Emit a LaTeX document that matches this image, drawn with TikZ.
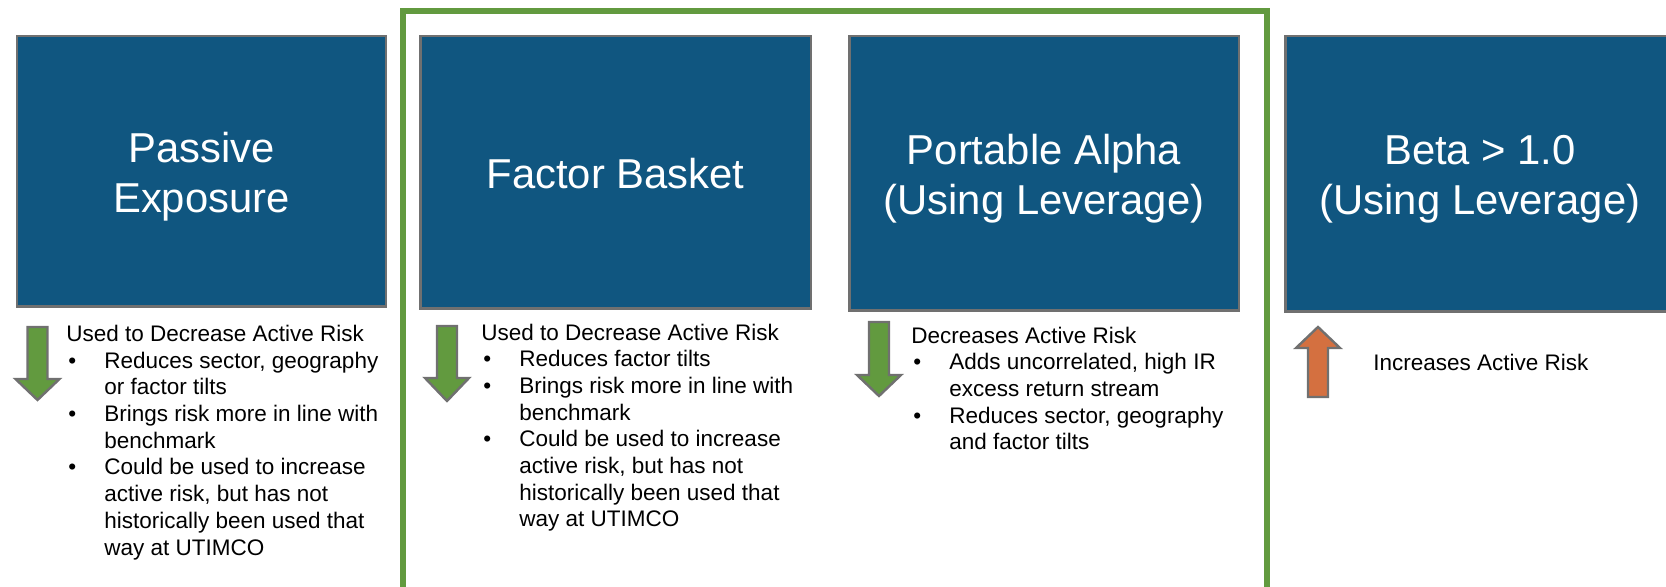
\documentclass[tikz,border=0pt]{standalone}
\usepackage{fontspec}
\setmainfont{Liberation Sans}
\definecolor{boxblue}{RGB}{16,86,128}
\definecolor{boxgray}{RGB}{112,112,112}
\definecolor{framegreen}{RGB}{98,154,63}
\definecolor{riskorange}{RGB}{212,112,64}
\tikzset{
  catbox/.style={draw=boxgray, line width=1.25pt, fill=boxblue, text=white,
    font=\fontsize{20.9}{25}\selectfont, align=center, inner sep=0pt},
  notes/.style={anchor=base west, align=left, inner sep=0pt,
    font=\fontsize{11.25}{13.35}\selectfont},
  frame/.style={draw=framegreen, line width=2.8pt},
  blk/.style={draw=boxgray, line width=1.2pt, line join=miter},
  }
\newcommand{\tstrut}{\rule[-0.17em]{0pt}{1.12em}}
\newcommand{\bul}{\makebox[19pt][l]{\hspace{1pt}\textbullet}}
\newcommand{\ind}{\hspace*{19pt}}
% fill, centre x, tail y, head base y, tip y
\newcommand{\blockarrow}[5]{%
  \draw[blk,fill=#1] (#2-10,#3) -- (#2+10,#3) -- (#2+10,#4) -- (#2+22,#4)
    -- (#2,#5) -- (#2-22,#4) -- (#2-10,#4) -- cycle;}

\begin{document}
\begin{tikzpicture}[x=0.5pt,y=-0.5pt]
  \useasboundingbox (0,0) rectangle (1666,587);

  % green frame round the middle pair, open at the bottom
  \draw[frame] (403,600) -- (403,11) -- (1267,11) -- (1267,600);

  % category boxes
  \node[catbox, minimum width=184.5pt, minimum height=135.25pt] (pas) at (201.5,171.5)
    {\tstrut Passive\\\tstrut Exposure};
  \node[catbox, minimum width=195.25pt, minimum height=136.25pt] (fac) at (615.5,172.5)
    {\tstrut Factor Basket};
  \node[catbox, minimum width=194.75pt, minimum height=137.25pt] (alp) at (1044,173.5)
    {\tstrut Portable Alpha\\\tstrut (Using Leverage)};
  \node[catbox, minimum width=194.75pt, minimum height=137.75pt] (bet) at (1480,174)
    {\tstrut Beta > 1.0\\\tstrut (Using Leverage)};

  % risk arrows
  \blockarrow{framegreen}{37.5}{327}{379}{400}
  \blockarrow{framegreen}{447}{326}{378}{401}
  \blockarrow{framegreen}{879}{322}{375}{396}
  \blockarrow{riskorange}{1318}{397}{348}{327}

  % notes (placed at the baseline of their last line)
  \node[notes] (pasnote) at (66,555) {Used to Decrease Active Risk\\
    \bul Reduces sector, geography\\ \ind or factor tilts\\
    \bul Brings risk more in line with\\ \ind benchmark\\
    \bul Could be used to increase\\ \ind active risk, but has not\\
    \ind historically been used that\\ \ind way at UTIMCO};
  \node[notes] (facnote) at (481,527) {Used to Decrease Active Risk\\
    \bul Reduces factor tilts\\
    \bul Brings risk more in line with\\ \ind benchmark\\
    \bul Could be used to increase\\ \ind active risk, but has not\\
    \ind historically been used that\\ \ind way at UTIMCO};
  \node[notes] (alpnote) at (911,450) {Decreases Active Risk\\
    \bul Adds uncorrelated, high IR\\ \ind excess return stream\\
    \bul Reduces sector, geography\\ \ind and factor tilts};
  \node[notes] (betnote) at (1373,371) {Increases Active Risk};
\end{tikzpicture}
\end{document}
